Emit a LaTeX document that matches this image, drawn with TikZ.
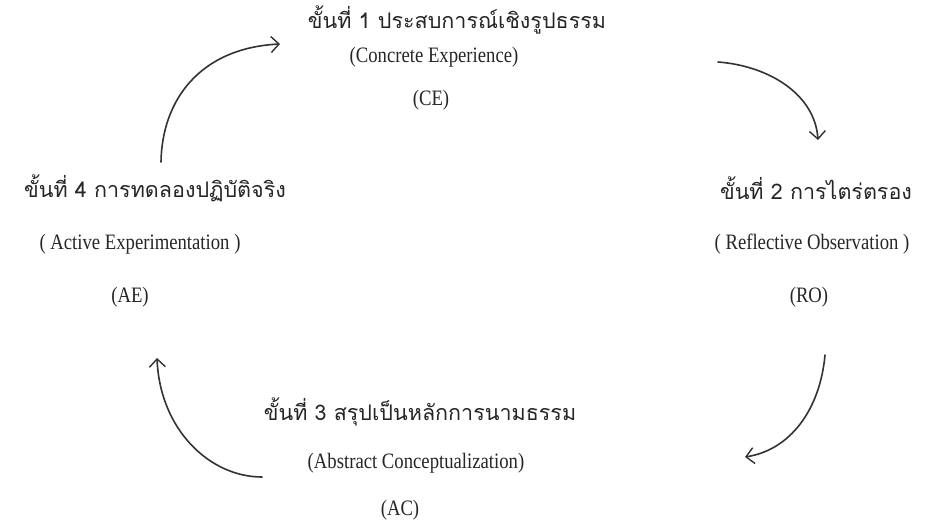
\documentclass[tikz,border=0pt]{standalone}
\usepackage{fontspec}
\setmainfont{Liberation Serif}
\newfontfamily\latinfont[FakeStretch=0.85]{Liberation Serif}
\newfontfamily\thaifont[Script=Thai]{Loma}
\usetikzlibrary{arrows.meta}
\begin{document}
\begin{tikzpicture}[x=1pt,y=-1pt,
  th/.style={font=\thaifont\fontsize{21.5}{26}\selectfont, inner sep=0pt, text=black!85},
  en/.style={font=\latinfont\fontsize{22}{26}\selectfont, inner sep=0pt, text=black!85},
  cyc/.style={line width=1.6pt, draw=black!80, line cap=round,
    -{Straight Barb[length=8pt,width=16pt,line width=1.4pt]}}]
\useasboundingbox[fill=white] (0,0) rectangle (939,522);
% step 1
\node[th] (s1t) at (457,20) {ขั้นที่ 1 ประสบการณ์เชิงรูปธรรม};
\node[en] (s1e) at (434,57) {(Concrete Experience)};
\node[en] (s1a) at (431,100) {(CE)};
% step 2
\node[th] (s2t) at (816,188) {ขั้นที่  2 การไตร่ตรอง};
\node[en] (s2e) at (812,244) {( Reflective Observation )};
\node[en] (s2a) at (809,297) {(RO)};
% step 3
\node[th] (s3t) at (420,412) {ขั้นที่ 3 สรุปเป็นหลักการนามธรรม};
\node[en] (s3e) at (416,463) {(Abstract Conceptualization)};
\node[en] (s3a) at (400,510) {(AC)};
% step 4
\node[th] (s4t) at (155,188) {ขั้นที่ 4 การทดลองปฏิบัติจริง};
\node[en] (s4e) at (140,244) {( Active Experimentation )};
\node[en] (s4a) at (130,297) {(AE)};
% connector ends
\coordinate (a41s) at (161,162);
\coordinate (a41e) at (280,44);
\coordinate (a12s) at (718,62);
\coordinate (a12e) at (818,140);
\coordinate (a23s) at (825,355);
\coordinate (a23e) at (745,457);
\coordinate (a34s) at (262,477);
\coordinate (a34e) at (157,358);
\draw[cyc] (a41s) .. controls (162,100) and (200,48) .. (a41e);
\draw[cyc] (a12s) .. controls (770,66) and (815,95) .. (a12e);
\draw[cyc] (a23s) .. controls (820,410) and (790,450) .. (a23e);
\draw[cyc] (a34s) .. controls (210,477) and (160,430) .. (a34e);
\end{tikzpicture}
\end{document}
